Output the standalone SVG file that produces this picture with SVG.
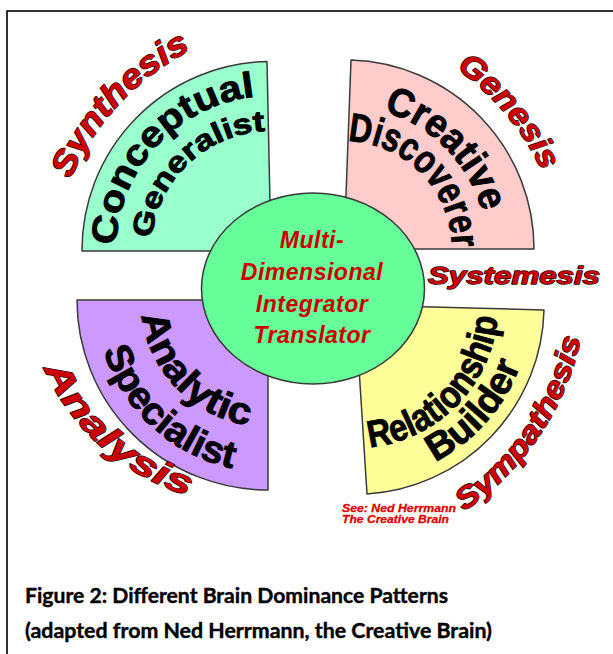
<svg xmlns="http://www.w3.org/2000/svg" width="613" height="654" viewBox="0 0 613 654">
<style>
.wedge{stroke:#3a3a3a;stroke-width:1.5;stroke-linejoin:round}
.q{font-family:"Liberation Sans",Arial,sans-serif;font-weight:bold;fill:#000;stroke:#000;stroke-width:0.9}
.lab{font-family:"Liberation Sans",Arial,sans-serif;font-weight:bold;font-style:italic;fill:#cc0000;stroke:#2a0000;stroke-width:1.4;paint-order:stroke;stroke-linejoin:round}
.ctr{font-family:"Liberation Sans",Arial,sans-serif;font-weight:bold;font-style:italic;fill:#cc0000;font-size:23px;text-anchor:middle;letter-spacing:0.5px}
.cap{font-family:Lato,"Liberation Sans",sans-serif;font-weight:bold;font-size:21px;fill:#000;stroke:#000;stroke-width:0.4}
.ref{font-family:"Liberation Sans",Arial,sans-serif;font-weight:bold;font-style:italic;font-size:11.5px;fill:#e00000;stroke:#e00000;stroke-width:0.3}
</style>
<defs>
<path id="p1" d="M116.1,245.6 A155,155 0 0 1 254.8,96.8"/>
<path id="p2" d="M151.7,238.5 A120,120 0 0 1 264.7,131.2"/>
<path id="p3" d="M383.4,111.5 A143,143 0 0 1 482.1,212.0"/>
<path id="p4" d="M347.8,141.1 A108,108 0 0 1 452.0,247.1"/>
<path id="p5" d="M141.9,315.5 A127,127 0 0 0 248.1,425.4"/>
<path id="p6" d="M103.5,350.3 A172,172 0 0 0 232.2,468.2"/>
<path id="p7" d="M369.9,447.2 A143,143 0 0 0 497.5,317.5"/>
<path id="p8" d="M434.9,461.8 A176,176 0 0 0 520.4,365.2"/>
<path id="p9" d="M70.5,179.2 A258,258 0 0 1 190.9,50.1"/>
<path id="p10" d="M456.0,68.7 A258,258 0 0 1 541.8,171.0"/>
<path id="p11" d="M44.1,368.4 A232,232 0 0 0 188.2,495.9"/>
<path id="p12" d="M464.0,511.3 A279,279 0 0 0 580.9,338.0"/>
</defs>
<rect x="0" y="0" width="613" height="654" fill="#fff"/>
<rect x="7" y="11" width="640" height="680" fill="none" stroke="#000" stroke-width="1.6"/>

<g id="conceptual-generalist">
<path class="wedge" fill="#99ffcc" d="M271,251 L82,251 A189,189 0 0 1 267,61.5 Z"/>
<text class="q" font-size="36"><textPath href="#p1" textLength="222" lengthAdjust="spacingAndGlyphs">Conceptual</textPath></text>
<text class="q" font-size="29"><textPath href="#p2" textLength="170" lengthAdjust="spacingAndGlyphs">Generalist</textPath></text>
</g>

<g id="creative-discoverer">
<path class="wedge" fill="#ffcccc" d="M344,249 L351,60 A189,189 0 0 1 534,249 Z"/>
<text class="q" font-size="40"><textPath href="#p3" textLength="147" lengthAdjust="spacingAndGlyphs">Creative</textPath></text>
<text class="q" font-size="40"><textPath href="#p4" textLength="164" lengthAdjust="spacingAndGlyphs">Discoverer</textPath></text>
</g>

<g id="analytic-specialist">
<path class="wedge" fill="#cc99ff" d="M268,300 L77,300 A191,190 0 0 0 268,490 Z"/>
<text class="q" font-size="38"><textPath href="#p5" textLength="164" lengthAdjust="spacingAndGlyphs">Analytic</textPath></text>
<text class="q" font-size="38"><textPath href="#p6" textLength="183" lengthAdjust="spacingAndGlyphs">Specialist</textPath></text>
</g>

<g id="relationship-builder">
<path class="wedge" fill="#ffff99" d="M355,305 L544,310 A189,189 0 0 1 367,494 Z"/>
<text class="q" font-size="38"><textPath href="#p7" textLength="197" lengthAdjust="spacingAndGlyphs">Relationship</textPath></text>
<text class="q" font-size="38"><textPath href="#p8" textLength="132" lengthAdjust="spacingAndGlyphs">Builder</textPath></text>
</g>

<g id="integrator">
<ellipse cx="313" cy="288.5" rx="111.5" ry="95.5" fill="#66ff99" stroke="#3a3a3a" stroke-width="1.5"/>
<text class="ctr" x="312" y="248">Multi-</text>
<text class="ctr" x="312" y="280">Dimensional</text>
<text class="ctr" x="312" y="312">Integrator</text>
<text class="ctr" x="312" y="343">Translator</text>
</g>

<g id="labels">
<text class="lab" font-size="34"><textPath href="#p9" textLength="180" lengthAdjust="spacingAndGlyphs">Synthesis</textPath></text>
<text class="lab" font-size="32"><textPath href="#p10" textLength="135" lengthAdjust="spacingAndGlyphs">Genesis</textPath></text>
<text class="lab" font-size="23" x="428" y="284" textLength="172" lengthAdjust="spacingAndGlyphs">Systemesis</text>
<text class="lab" font-size="34"><textPath href="#p11" textLength="198" lengthAdjust="spacingAndGlyphs">Analysis</textPath></text>
<text class="lab" font-size="30"><textPath href="#p12" textLength="214" lengthAdjust="spacingAndGlyphs">Sympathesis</textPath></text>
</g>

<g id="source-note">
<text class="ref" x="342" y="512" textLength="114" lengthAdjust="spacingAndGlyphs">See: Ned Herrmann</text>
<text class="ref" x="342" y="523" textLength="107" lengthAdjust="spacingAndGlyphs">The Creative Brain</text>
</g>

<g id="caption">
<text class="cap" x="25" y="603" textLength="423" lengthAdjust="spacingAndGlyphs">Figure 2: Different Brain Dominance Patterns</text>
<text class="cap" x="25" y="638" textLength="467" lengthAdjust="spacingAndGlyphs">(adapted from Ned Herrmann, the Creative Brain)</text>
</g>
</svg>
